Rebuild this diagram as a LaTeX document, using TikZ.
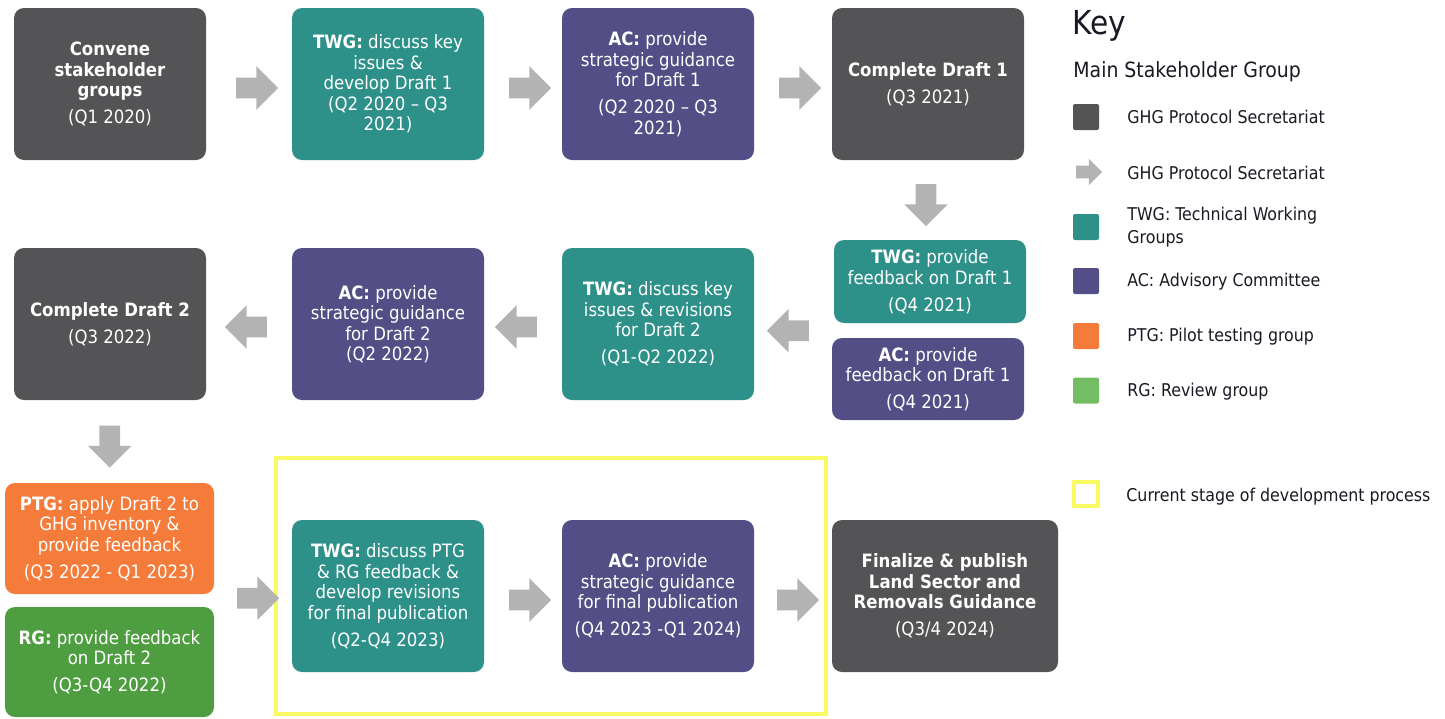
\documentclass[tikz,border=0pt]{standalone}
\usepackage{fontspec}
\setmainfont{DejaVu Sans Condensed}
\usetikzlibrary{shapes.arrows,calc}
\definecolor{secgray}{RGB}{84,84,86}
\definecolor{twgteal}{RGB}{46,145,137}
\definecolor{acpurple}{RGB}{83,79,134}
\definecolor{ptgorange}{RGB}{244,123,58}
\definecolor{rggreen}{RGB}{78,158,65}
\definecolor{keygreen}{RGB}{115,190,100}
\definecolor{arrowgray}{RGB}{179,179,179}
\definecolor{curyellow}{RGB}{250,250,100}
\definecolor{keytext}{RGB}{25,25,35}
\newcommand\gap{\\[3.25pt]}
\tikzset{
  box/.style={rounded corners=5pt, inner sep=0pt, align=center, text=white,
    minimum width=96pt, minimum height=76pt, font=\fontsize{9.2}{10.25}\selectfont},
  blockarrow/.style={single arrow, fill=arrowgray, draw=none, inner sep=0pt,
    single arrow head extend=5.75pt, single arrow head indent=0pt,
    single arrow tip angle=90, minimum height=21pt},
  keysq/.style={rounded corners=1pt, inner sep=0pt, minimum width=13pt, minimum height=13pt},
  keylabel/.style={anchor=west, inner sep=0pt, text=keytext, align=left,
    font=\fontsize{8.8}{11.5}\selectfont},
}
\begin{document}
\begin{tikzpicture}[x=0.5pt,y=-0.5pt]
\useasboundingbox (0,0) rectangle (1445,718);
% current stage frame
\node[draw=curyellow, line width=2pt, minimum width=275pt, minimum height=128pt, inner sep=0pt] (cur) at (551,586) {};
% row 1
\node[box, fill=secgray] (conv) at (110,84) {\textbf{Convene}\\\textbf{stakeholder}\\\textbf{groups}\gap(Q1 2020)};
\node[box, fill=twgteal] (twga) at (388,84) {\textbf{TWG:} discuss key\\issues \&\\develop Draft 1\\(Q2 2020 – Q3\\2021)};
\node[box, fill=acpurple] (aca) at (658,84) {\textbf{AC:} provide\\strategic guidance\\for Draft 1\gap(Q2 2020 – Q3\\2021)};
\node[box, fill=secgray] (cda) at (928,84) {\textbf{Complete Draft 1}\gap(Q3 2021)};
% row 2
\node[box, fill=secgray] (cdb) at (110,324) {\textbf{Complete Draft 2}\gap(Q3 2022)};
\node[box, fill=acpurple] (acb) at (388,324) {\textbf{AC:} provide\\strategic guidance\\for Draft 2\\(Q2 2022)};
\node[box, fill=twgteal] (twgb) at (658,324) {\textbf{TWG:} discuss key\\issues \& revisions\\for Draft 2\gap(Q1-Q2 2022)};
\node[box, fill=twgteal, minimum height=41.5pt] (twgfb) at (930,281.5) {\textbf{TWG:} provide\\feedback on Draft 1\gap(Q4 2021)};
\node[box, fill=acpurple, minimum height=41pt] (acfb) at (928,379) {\textbf{AC:} provide\\feedback on Draft 1\gap(Q4 2021)};
% row 3
\node[box, fill=ptgorange, minimum width=104.5pt, minimum height=55.5pt] (ptg) at (109.5,538.5) {\textbf{PTG:} apply Draft 2 to\\GHG inventory \&\\provide feedback\gap(Q3 2022 - Q1 2023)};
\node[box, fill=rggreen, minimum width=104.5pt, minimum height=55pt] (rg) at (109.5,662) {\textbf{RG:} provide feedback\\on Draft 2\gap(Q3-Q4 2022)};
\node[box, fill=twgteal] (twgc) at (388,596) {\textbf{TWG:} discuss PTG\\\& RG feedback \&\\develop revisions\\for final publication\gap(Q2-Q4 2023)};
\node[box, fill=acpurple] (acc) at (658,596) {\textbf{AC:} provide\\strategic guidance\\for final publication\gap(Q4 2023 -Q1 2024)};
\node[box, fill=secgray, minimum width=113pt] (fin) at (945,596) {\textbf{Finalize \& publish}\\\textbf{Land Sector and}\\\textbf{Removals Guidance}\gap(Q3/4 2024)};
% arrows
\node[blockarrow] (ar1) at ($(conv.east)!0.5!(twga.west)+(3,4)$) {\rule{0pt}{10pt}};
\node[blockarrow] (ar2) at ($(twga.east)!0.5!(aca.west)+(2,4)$) {\rule{0pt}{10pt}};
\node[blockarrow] (ar3) at ($(aca.east)!0.5!(cda.west)+(2,4)$) {\rule{0pt}{10pt}};
\node[blockarrow, rotate=-90] (ar4) at ($(cda.south)!0.5!(twgfb.north)+(-3,0)$) {\rule{0pt}{10pt}};
\node[blockarrow, shape border rotate=180] (ar5) at ($(twgb.east)!0.5!(acfb.north west)$) {\rule{0pt}{10pt}};
\node[blockarrow, shape border rotate=180] (ar6) at ($(acb.east)!0.5!(twgb.west)+(-2,3)$) {\rule{0pt}{10pt}};
\node[blockarrow, shape border rotate=180] (ar7) at ($(cdb.east)!0.5!(acb.west)+(2,3)$) {\rule{0pt}{10pt}};
\node[blockarrow, rotate=-90] (ar8) at ($(cdb.south)!0.5!(ptg.north)$) {\rule{0pt}{10pt}};
\node[blockarrow] (ar9) at ($($(ptg.south east)!0.5!(rg.north east)$)!0.5!(twgc.west)$) {\rule{0pt}{10pt}};
\node[blockarrow] (ar10) at ($(twgc.east)!0.5!(acc.west)+(2,4)$) {\rule{0pt}{10pt}};
\node[blockarrow] (ar11) at ($(acc.east)!0.5!(fin.west)+(0,4)$) {\rule{0pt}{10pt}};
% key
\node[anchor=base west, inner sep=0pt, text=keytext, font=\fontsize{16.5}{18}\selectfont] (keyt) at (1072,34) {Key};
\node[anchor=base west, inner sep=0pt, text=keytext, font=\fontsize{10.5}{12}\selectfont] (keym) at (1073,77) {Main Stakeholder Group};
\node[keysq, fill=secgray] (k1) at (1086,117) {};
\node[keylabel] (k1t) at (1127,117) {GHG Protocol Secretariat};
\node[single arrow, fill=arrowgray, draw=none, inner sep=0pt, single arrow head extend=3.5pt,
  single arrow head indent=0pt, single arrow tip angle=90, minimum height=13pt] (k2) at (1086,172) {\rule{0pt}{6pt}};
\node[keylabel] (k2t) at (1127,173) {GHG Protocol Secretariat};
\node[keysq, fill=twgteal] (k3) at (1086,227) {};
\node[keylabel] (k3t) at (1127,227.5) {TWG: Technical Working\\Groups};
\node[keysq, fill=acpurple] (k4) at (1086,281) {};
\node[keylabel] (k4t) at (1127,282) {AC: Advisory Committee};
\node[keysq, fill=ptgorange] (k5) at (1086,336) {};
\node[keylabel] (k5t) at (1127,337) {PTG: Pilot testing group};
\node[keysq, fill=keygreen] (k6) at (1086,390.5) {};
\node[keylabel] (k6t) at (1127,392) {RG: Review group};
\node[draw=curyellow, line width=2pt, minimum width=12pt, minimum height=12pt, inner sep=0pt] (k7) at (1086,493.5) {};
\node[keylabel] (k7t) at (1126,497) {Current stage of development process};
\end{tikzpicture}
\end{document}
